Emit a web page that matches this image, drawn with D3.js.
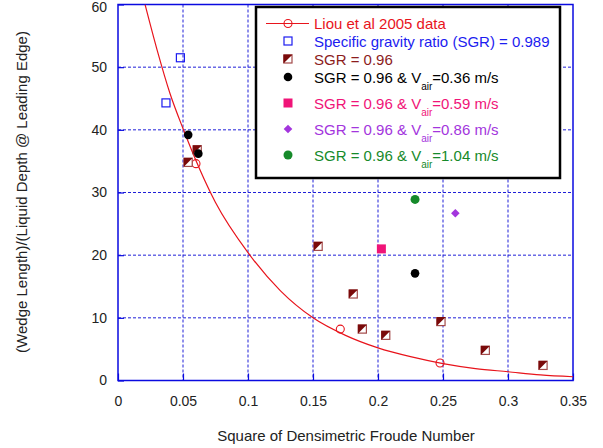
<!DOCTYPE html>
<html>
<head>
<meta charset="utf-8">
<script src="https://cdn.jsdelivr.net/npm/d3@7"></script>
<style>
  body { margin: 0; background: #fff; }
  svg { display: block; font-family: Arial, "Liberation Sans", sans-serif; }
  .grid line { stroke: #1f1fd8; stroke-width: 1; stroke-dasharray: 3,2; }
  .tick-label { fill: #222; font-size: 14px; }
</style>
</head>
<body>
<svg id="chart" width="603" height="448"></svg>
<script>
/* ---------------- DATA ---------------- */
const xTicks = [0, 0.05, 0.1, 0.15, 0.2, 0.25, 0.3, 0.35];
const yTicks = [0, 10, 20, 30, 40, 50, 60];

// fitted curve
const liouCurve = [
  [0.0208, 60], [0.03, 52.8], [0.04, 45.8], [0.05, 40.2], [0.075, 28.4],
  [0.1, 20.4], [0.125, 14.3], [0.15, 10.0], [0.175, 7.2], [0.2, 5.2],
  [0.225, 3.8], [0.25, 2.7], [0.275, 1.9], [0.3, 1.4], [0.325, 0.9], [0.35, 0.6]
];
const liouData = [[0.060, 34.6], [0.171, 8.2], [0.2477, 2.8]];
const sgr0989 = [[0.048, 51.5], [0.0369, 44.3]];
const sgr096 = [
  [0.061, 36.8], [0.054, 34.8], [0.154, 21.4], [0.181, 13.8], [0.188, 8.2],
  [0.206, 7.2], [0.2485, 9.4], [0.2826, 4.8], [0.327, 2.4]
];
const air036 = [[0.054, 39.2], [0.0618, 36.2], [0.2285, 17.1]];
const air059 = [[0.2026, 21.0]];
const air086 = [[0.2595, 26.7]];
const air104 = [[0.2285, 28.9]];

const legendItems = [
  { text: "Liou et al 2005 data", sub: null, after: null, color: "#e8141c", marker: "liou" },
  { text: "Specific gravity ratio (SGR) = 0.989", sub: null, after: null, color: "#1c1cf0", marker: "openSquare" },
  { text: "SGR = 0.96", sub: null, after: null, color: "#8c1c1c", marker: "halfSquare" },
  { text: "SGR = 0.96 & V", sub: "air", after: "=0.36 m/s", color: "#000000", marker: "blackDot" },
  { text: "SGR = 0.96 & V", sub: "air", after: "=0.59 m/s", color: "#f01478", marker: "pinkSquare" },
  { text: "SGR = 0.96 & V", sub: "air", after: "=0.86 m/s", color: "#a335dd", marker: "diamond" },
  { text: "SGR = 0.96 & V", sub: "air", after: "=1.04 m/s", color: "#168a2a", marker: "greenDot" }
];

/* ---------------- SETUP ---------------- */
const svg = d3.select("#chart");
const plotLeft = 118, plotRight = 573, plotTop = 4.5, plotBottom = 380.5;

const x = d3.scaleLinear().domain([0, 0.35]).range([plotLeft, plotRight]);
const y = d3.scaleLinear().domain([0, 60]).range([plotBottom, plotTop]);

svg.append("defs").append("clipPath").attr("id", "plotClip")
  .append("rect")
  .attr("x", plotLeft).attr("y", plotTop)
  .attr("width", plotRight - plotLeft).attr("height", plotBottom - plotTop);

/* ---------------- GRID ---------------- */
const grid = svg.append("g").attr("class", "grid");
grid.selectAll(".vg")
  .data(xTicks.slice(1, -1))
  .enter().append("line")
  .attr("x1", d => x(d)).attr("x2", d => x(d))
  .attr("y1", plotTop).attr("y2", plotBottom);
grid.selectAll(".hg")
  .data(yTicks.slice(1, -1))
  .enter().append("line")
  .attr("x1", plotLeft).attr("x2", plotRight)
  .attr("y1", d => y(d)).attr("y2", d => y(d));

/* ---------------- AXES ---------------- */
const axisColor = "#0a0ae0";
const xAxis = svg.append("g")
  .attr("transform", `translate(0,${plotBottom})`)
  .call(d3.axisBottom(x).tickValues(xTicks).tickSize(-7).tickPadding(16).tickFormat(d3.format("~g")));
const yAxis = svg.append("g")
  .attr("transform", `translate(${plotLeft},0)`)
  .call(d3.axisLeft(y).tickValues(yTicks).tickSize(-6).tickPadding(11));

[xAxis, yAxis].forEach(a => {
  a.select(".domain").remove();
  a.selectAll(".tick line").attr("stroke", axisColor).attr("stroke-width", 1.2);
  a.selectAll(".tick text").attr("class", "tick-label");
  a.attr("font-family", null).attr("font-size", null);
});
// top label sits against the window edge; nudge it so it stays readable
yAxis.selectAll(".tick text").filter(d => d === 60).attr("dy", "0.5em");

// plot frame
svg.append("rect")
  .attr("x", plotLeft).attr("y", plotTop)
  .attr("width", plotRight - plotLeft).attr("height", plotBottom - plotTop)
  .attr("fill", "none").attr("stroke", axisColor).attr("stroke-width", 1.5);

/* ---------------- AXIS TITLES ---------------- */
svg.append("text")
  .attr("x", 346).attr("y", 441)
  .attr("text-anchor", "middle").attr("font-size", 15).attr("fill", "#222")
  .text("Square of Densimetric Froude Number");

svg.append("text")
  .attr("transform", "translate(27,192) rotate(-90)")
  .attr("text-anchor", "middle").attr("font-size", 15).attr("fill", "#222")
  .text("(Wedge Length)/(Liquid Depth @ Leading Edge)");

/* ---------------- MARKERS ---------------- */
function drawMarker(g, type, cx, cy) {
  if (type === "liou") {
    g.append("circle").attr("cx", cx).attr("cy", cy).attr("r", 4)
      .attr("fill", "none").attr("stroke", "#e8141c").attr("stroke-width", 1.1);
  } else if (type === "openSquare") {
    g.append("rect").attr("x", cx - 4).attr("y", cy - 4).attr("width", 8).attr("height", 8)
      .attr("fill", "none").attr("stroke", "#1c1cf0").attr("stroke-width", 1.2);
  } else if (type === "halfSquare") {
    g.append("rect").attr("x", cx - 4).attr("y", cy - 4).attr("width", 8).attr("height", 8)
      .attr("fill", "#fff").attr("stroke", "#a34a4a").attr("stroke-width", 1.2);
    g.append("path")
      .attr("d", `M${cx - 4.6},${cy - 4.6}L${cx + 4.6},${cy - 4.6}L${cx - 4.6},${cy + 4.6}Z`)
      .attr("fill", "#7a0a0a");
  } else if (type === "blackDot") {
    g.append("circle").attr("cx", cx).attr("cy", cy).attr("r", 4.3).attr("fill", "#000");
  } else if (type === "pinkSquare") {
    g.append("rect").attr("x", cx - 4.5).attr("y", cy - 4.5).attr("width", 9).attr("height", 9)
      .attr("fill", "#f01478");
  } else if (type === "diamond") {
    g.append("path")
      .attr("d", `M${cx},${cy - 4.3}L${cx + 4.3},${cy}L${cx},${cy + 4.3}L${cx - 4.3},${cy}Z`)
      .attr("fill", "#a335dd");
  } else if (type === "greenDot") {
    g.append("circle").attr("cx", cx).attr("cy", cy).attr("r", 4.5).attr("fill", "#168a2a");
  }
}

const plot = svg.append("g").attr("clip-path", "url(#plotClip)");

plot.append("path")
  .datum(liouCurve)
  .attr("fill", "none").attr("stroke", "#e8141c").attr("stroke-width", 1.2)
  .attr("d", d3.line().x(d => x(d[0])).y(d => y(d[1])).curve(d3.curveMonotoneX));

const series = [
  [liouData, "liou"], [sgr0989, "openSquare"], [sgr096, "halfSquare"],
  [air036, "blackDot"], [air059, "pinkSquare"], [air086, "diamond"], [air104, "greenDot"]
];
const markGroup = svg.append("g");
series.forEach(([pts, type]) => {
  pts.forEach(p => drawMarker(markGroup, type, x(p[0]), y(p[1])));
});

/* ---------------- LEGEND ---------------- */
const legend = svg.append("g");
legend.append("rect")
  .attr("x", 256).attr("y", 7).attr("width", 304).attr("height", 171)
  .attr("fill", "#fff").attr("stroke", "#000").attr("stroke-width", 2.5);

const rowY = [23.5, 41, 59, 77, 103, 129, 155];
legendItems.forEach((item, i) => {
  const cy = rowY[i];
  if (item.marker === "liou") {
    legend.append("line").attr("x1", 266).attr("x2", 309).attr("y1", cy).attr("y2", cy)
      .attr("stroke", "#e8141c").attr("stroke-width", 1.2);
  }
  drawMarker(legend, item.marker, 288, cy);
  const t = legend.append("text")
    .attr("x", 314).attr("y", cy + 5.5)
    .attr("font-size", 15).attr("fill", item.color);
  t.append("tspan").text(item.text);
  if (item.sub) {
    t.append("tspan").attr("font-size", 10).attr("dy", 7).text(item.sub);
    t.append("tspan").attr("dy", -7).text(item.after);
  }
});
</script>
</body>
</html>
